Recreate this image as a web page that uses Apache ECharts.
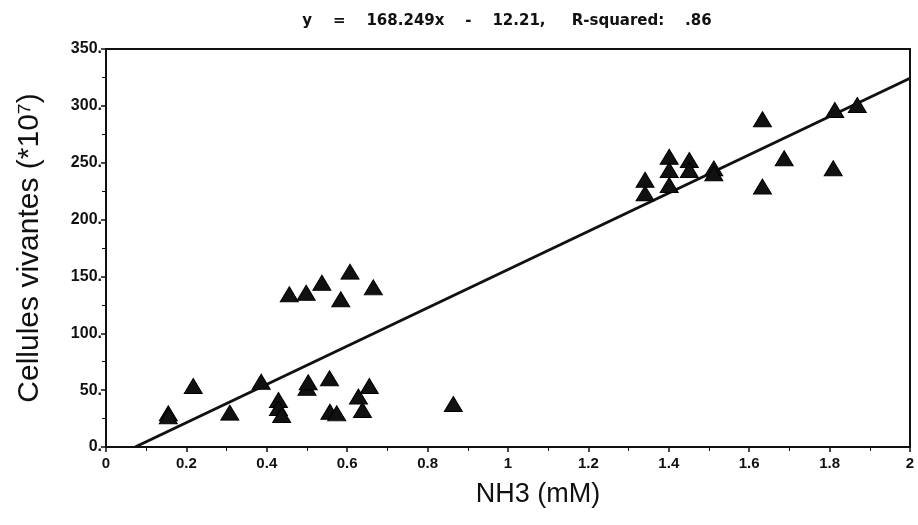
<!DOCTYPE html>
<html><head><meta charset="utf-8">
<script src="https://cdn.jsdelivr.net/npm/echarts@6/dist/echarts.min.js"></script>
<style>html,body{margin:0;padding:0;background:#fff}#c{width:918px;height:525px}</style>
</head><body><div id="c"></div>
<script>
const nh3 = [0.155,0.155,0.217,0.308,0.386,0.429,0.429,0.437,0.456,0.498,0.500,0.503,0.537,0.556,0.557,0.574,0.584,0.607,0.628,0.638,0.655,0.665,0.864,
  1.341,1.341,1.401,1.401,1.401,1.451,1.451,1.512,1.512,1.633,1.633,1.687,1.809,1.813,1.869];
const cells = [29.6,27,53.6,30.2,57.4,41.3,34.3,28.1,134.3,135.7,52,57,144.5,60.4,31,29.6,129.9,154.2,44.3,32.5,53.6,140.4,37.8,
  235,223,255.3,243.6,230.4,252.4,243.6,245,240.7,288.2,229,253.9,245.1,296.4,300.8];
const slope = 168.249, intercept = -12.21, r2 = '.86';
const xTicks = [0,0.2,0.4,0.6,0.8,1,1.2,1.4,1.6,1.8,2];
const yTicks = [0,50,100,150,200,250,300,350];

const x0 = -intercept / slope, x1 = 2;
const fitLine = [[x0, slope*x0+intercept],[x1, slope*x1+intercept]];
const pts = nh3.map((x,i)=>[x,cells[i]]);
const F = 'Liberation Sans, Arial, sans-serif';
const chart = echarts.init(document.getElementById('c'));
chart.setOption({
  animation:false,
  title:{text:'y    =    ' + slope + 'x    -    ' + Math.abs(intercept) + ',     R-squared:    ' + r2,
    left:502, textAlign:'center', top:9,
    textStyle:{fontFamily:'DejaVu Sans, sans-serif',fontSize:15,fontWeight:'bold',color:'#111'}},
  grid:{left:106,right:8,top:49,bottom:78,show:true,borderColor:'#111',borderWidth:2},
  xAxis:{type:'value',min:0,max:2,interval:0.2,
    name:'NH3 (mM)',nameLocation:'middle',nameGap:34,
    nameTextStyle:{fontFamily:F,fontSize:27,color:'#111',padding:[0,0,0,60]},
    axisLine:{lineStyle:{color:'#111',width:2}},
    axisTick:{show:true,length:5,lineStyle:{color:'#111',width:1.5}},
    minorTick:{show:true,splitNumber:2,length:4,lineStyle:{color:'#111'}},
    splitLine:{show:false},
    axisLabel:{fontFamily:F,fontSize:15,fontWeight:'bold',color:'#111',margin:9,
      customValues:xTicks}},
  yAxis:{type:'value',min:0,max:350,interval:50,
    name:'Cellules vivantes (*10⁷)',nameLocation:'middle',nameGap:61,
    nameTextStyle:{fontFamily:F,fontSize:30,color:'#111'},
    axisLine:{show:true,lineStyle:{color:'#111',width:2}},
    axisTick:{show:true,inside:false,length:5,lineStyle:{color:'#111',width:1.5}},
    minorTick:{show:true,splitNumber:2,length:4,lineStyle:{color:'#111'}},
    splitLine:{show:false},
    axisLabel:{fontFamily:F,fontSize:16,fontWeight:'bold',color:'#111',margin:4,
      formatter:v=>v+'.'}},
  series:[
    {type:'line',data:fitLine,symbol:'none',lineStyle:{color:'#111',width:3},z:2},
    {type:'scatter',data:pts,symbol:'triangle',symbolSize:[18,15],
      itemStyle:{color:'#111',opacity:1,borderColor:'#000',borderWidth:1},z:3}
  ]
});
</script></body></html>
